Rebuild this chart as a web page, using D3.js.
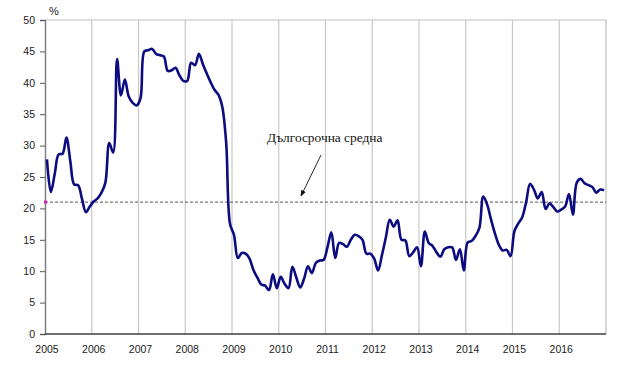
<!DOCTYPE html>
<html>
<head>
<meta charset="utf-8">
<script src="https://cdn.jsdelivr.net/npm/d3@7"></script>
<style>
  body { margin: 0; background: #fff; }
  svg { display: block; }
</style>
</head>
<body>
<div id="chart"></div>
<script>
// Monthly series, Jan 2005 - Dec 2016 (%)
const years = [2005, 2006, 2007, 2008, 2009, 2010, 2011, 2012, 2013, 2014, 2015, 2016];
const yTicks = [0, 5, 10, 15, 20, 25, 30, 35, 40, 45, 50];
const longTermAvg = 21.0;
const avgLabel = "Дългосрочна средна";
const unitLabel = "%";
const values = [
  27.8, 22.6, 25.5, 28.6, 28.7, 31.3, 27.5, 23.8, 23.7, 21.5, 19.4, 20.3, // 2005
  21.1, 21.6, 22.5, 24.1, 30.4, 28.9, 43.8, 38.0, 40.5, 37.8, 36.8, 36.4, // 2006
  37.5, 45.0, 45.2, 45.4, 44.6, 44.4, 44.2, 41.9, 42.0, 42.4, 41.2, 40.3, // 2007
  40.3, 43.2, 42.8, 44.6, 43.0, 41.5, 40.1, 38.9, 38.1, 36.2, 30.5, 17.5, // 2008
  15.8, 12.1, 12.9, 12.8, 12.0, 10.2, 9.0, 7.9, 7.7, 7.0, 9.5, 7.3,       // 2009
  9.1, 8.0, 7.3, 10.7, 9.0, 7.4, 8.8, 10.8, 9.7, 11.3, 11.7, 11.8,         // 2010
  13.8, 16.2, 12.1, 14.5, 14.3, 13.9, 15.0, 15.8, 15.6, 15.0, 12.8, 12.8, // 2011
  12.0, 10.1, 12.6, 15.4, 18.2, 17.1, 18.1, 15.0, 14.9, 12.4, 13.0, 13.8, // 2012
  10.8, 16.3, 14.5, 14.0, 13.0, 12.3, 13.5, 13.8, 13.8, 11.8, 13.5, 10.1, // 2013
  14.6, 14.8, 15.6, 16.9, 21.9, 20.6, 18.2, 16.0, 14.2, 13.3, 13.4, 12.4, // 2014
  16.4, 17.6, 18.6, 21.0, 23.9, 23.0, 21.6, 22.6, 19.9, 20.8, 20.2, 19.5, // 2015
  19.8, 20.3, 22.3, 19.0, 24.1, 24.7, 24.0, 23.7, 23.4, 22.5, 23.0, 22.9  // 2016
];

(function() {
  'use strict';

  const W = 630, H = 371;
  const plot = { left: 45, right: 606, top: 20, bottom: 334 };

  const svg = d3.select("#chart")
    .append("svg")
    .attr("width", W)
    .attr("height", H)
    .style("font-family", "'Liberation Sans', Arial, sans-serif");

  const x = d3.scaleLinear()
    .domain([2005, 2017])
    .range([plot.left, plot.right]);

  const y = d3.scaleLinear()
    .domain([0, 50])
    .range([plot.bottom, plot.top]);

  // Plot border (top + right)
  svg.append("path")
    .attr("d", `M${plot.left},${plot.top}H${plot.right}V${plot.bottom}`)
    .attr("fill", "none")
    .attr("stroke", "#bdbdbd")
    .attr("stroke-width", 1.2);

  // Vertical gridlines at year boundaries
  svg.append("g")
    .selectAll("line")
    .data(years.slice(1))
    .join("line")
    .attr("x1", d => x(d))
    .attr("x2", d => x(d))
    .attr("y1", plot.top)
    .attr("y2", plot.bottom)
    .attr("stroke", "#c8c8c8")
    .attr("stroke-width", 1.2);

  // Y axis
  const yAxis = svg.append("g")
    .attr("transform", `translate(${plot.left},0)`)
    .call(d3.axisLeft(y).tickValues(yTicks).tickSize(5).tickPadding(5));
  yAxis.select(".domain").attr("stroke", "#7f7f7f").attr("stroke-width", 1.5);
  yAxis.selectAll(".tick line").attr("stroke", "#555");
  yAxis.selectAll("text")
    .attr("fill", "#1a1a1a")
    .style("font-size", "10.5px")
    .style("font-family", "'Liberation Sans', Arial, sans-serif");

  // X axis line
  svg.append("line")
    .attr("x1", plot.left)
    .attr("x2", plot.right)
    .attr("y1", plot.bottom)
    .attr("y2", plot.bottom)
    .attr("stroke", "#404040")
    .attr("stroke-width", 1.3);

  // Year labels
  svg.append("g")
    .selectAll("text")
    .data(years)
    .join("text")
    .attr("x", d => x(d) + 2)
    .attr("y", 353)
    .attr("text-anchor", "middle")
    .attr("fill", "#1a1a1a")
    .style("font-size", "10.5px")
    .text(d => d);

  // Unit label
  svg.append("text")
    .attr("x", 49)
    .attr("y", 15)
    .attr("fill", "#1a1a1a")
    .style("font-size", "11px")
    .text(unitLabel);

  // Long-term average dashed line
  svg.append("line")
    .attr("x1", plot.left)
    .attr("x2", plot.right)
    .attr("y1", y(longTermAvg))
    .attr("y2", y(longTermAvg))
    .attr("stroke", "#555")
    .attr("stroke-width", 1)
    .attr("stroke-dasharray", "3,2");

  svg.append("rect")
    .attr("x", plot.left - 1)
    .attr("y", y(longTermAvg) - 1.5)
    .attr("width", 3)
    .attr("height", 3)
    .attr("fill", "#e020c0");

  // Series line
  const line = d3.line()
    .x((d, i) => x(2005 + (i + 0.5) / 12))
    .y(d => y(d))
    .curve(d3.curveCatmullRom.alpha(0.5));

  svg.append("path")
    .datum(values)
    .attr("d", line)
    .attr("fill", "none")
    .attr("stroke", "#0c0c80")
    .attr("stroke-width", 2.6)
    .attr("stroke-linejoin", "round");

  // Annotation
  svg.append("text")
    .attr("x", 267)
    .attr("y", 142)
    .attr("fill", "#111")
    .style("font-family", "'Liberation Serif', 'Times New Roman', serif")
    .style("font-size", "13.4px")
    .text(avgLabel);

  svg.append("defs").append("marker")
    .attr("id", "arrow")
    .attr("viewBox", "0 0 10 10")
    .attr("refX", 9)
    .attr("refY", 5)
    .attr("markerWidth", 7)
    .attr("markerHeight", 7)
    .attr("orient", "auto")
    .append("path")
    .attr("d", "M0,1L10,5L0,9z")
    .attr("fill", "#111");

  svg.append("line")
    .attr("x1", 321)
    .attr("y1", 155)
    .attr("x2", 301)
    .attr("y2", 196)
    .attr("stroke", "#111")
    .attr("stroke-width", 0.9)
    .attr("marker-end", "url(#arrow)");
})();
</script>
</body>
</html>
